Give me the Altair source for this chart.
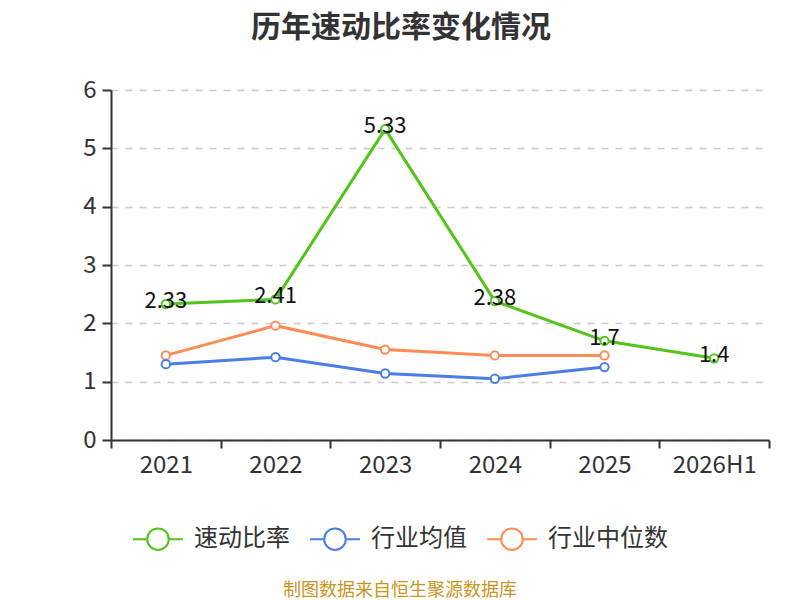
import altair as alt
import pandas as pd

years = ["2021", "2022", "2023", "2024", "2025", "2026H1"]
series_names = ["速动比率", "行业均值", "行业中位数"]
quick_ratio = [2.33, 2.41, 5.33, 2.38, 1.7, 1.4]
industry_avg = [1.30, 1.42, 1.14, 1.05, 1.25, None]
industry_median = [1.45, 1.96, 1.55, 1.45, 1.45, None]
colors = ["#52c41a", "#4a7ee6", "#ff8b55"]

rows = []
for name, vals in zip(series_names, [quick_ratio, industry_avg, industry_median]):
    for y, v in zip(years, vals):
        if v is not None:
            rows.append({"year": y, "series": name, "value": v})
df = pd.DataFrame(rows)
df_main = pd.DataFrame({"year": years, "value": quick_ratio,
                        "label": [f"{v:g}" for v in quick_ratio]})

FONT = "Noto Sans CJK SC"

x_enc = alt.X("year:N", sort=years, bandPosition=0.5,
              scale=alt.Scale(type="band", domain=years, paddingInner=0, paddingOuter=0),
              axis=alt.Axis(title=None, labelAngle=0, tickBand="extent", labelFontSize=24,
                            labelColor="#333", labelFont=FONT, domainColor="#333",
                            tickColor="#333", tickSize=8, domainWidth=2, tickWidth=2,
                            labelPadding=5, grid=False))
y_enc = alt.Y("value:Q",
              scale=alt.Scale(domain=[0, 6], nice=False),
              axis=alt.Axis(title=None, values=[0, 1, 2, 3, 4, 5, 6], format="d",
                            labelFontSize=24,
                            labelColor="#333", labelFont=FONT, domainColor="#333",
                            tickColor="#333", tickSize=9, domainWidth=2, tickWidth=2,
                            labelPadding=6, grid=True, gridColor="#cccccc",
                            gridDash=[7, 7], gridWidth=1.5))

legend_path = ("M-1,0L-0.43,0M0.43,0L1,0M0.43,0A0.43,0.43,0,1,1,-0.43,0"
               "A0.43,0.43,0,1,1,0.43,0Z")

color_enc = alt.Color("series:N", sort=series_names,
                      scale=alt.Scale(domain=series_names, range=colors),
                      legend=alt.Legend(title=None, orient="none", direction="horizontal",
                                        legendX=21, legendY=423,
                                        symbolType=legend_path, symbolSize=2500,
                                        symbolStrokeWidth=2, symbolFillColor="white",
                                        labelFontSize=24, labelFont=FONT, labelColor="#333",
                                        labelOffset=10, columnPadding=16))

lines = alt.Chart(df).mark_line(
    strokeWidth=3,
    point=alt.OverlayMarkDef(filled=False, fill="white", size=70, strokeWidth=2, opacity=1)
).encode(x=x_enc, y=y_enc, color=color_enc, order=alt.Order("series:N"))

labels = alt.Chart(df_main).mark_text(fontSize=22, font=FONT, color="#111", dy=-3).encode(
    x=alt.X("year:N", sort=years, bandPosition=0.5),
    y="value:Q",
    text="label:N",
)

source = alt.Chart(pd.DataFrame({"t": ["制图数据来自恒生聚源数据库"]})).mark_text(
    fontSize=18, font=FONT, color="#c8961e"
).encode(x=alt.value(289), y=alt.value(501), text="t:N")

chart = alt.layer(lines, labels, source).properties(
    width=658, height=350,
    autosize=alt.AutoSizeParams(type="none"),
    padding={"left": 103, "top": 82, "right": 23, "bottom": 160},
    title=alt.TitleParams("历年速动比率变化情况", fontSize=30, font=FONT, fontWeight="bold",
                          color="#333", anchor="middle", dx=-39, offset=35),
).configure_view(stroke=None)

chart.save("out.html", embed_options={"renderer": "svg", "actions": False})
